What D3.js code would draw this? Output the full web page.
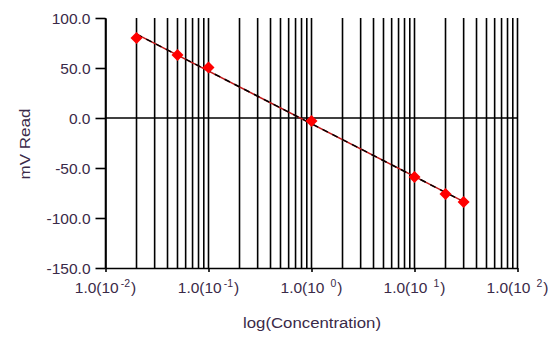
<!DOCTYPE html>
<html><head><meta charset="utf-8">
<script src="https://cdn.jsdelivr.net/npm/d3@7"></script>
<style>body{margin:0;background:#fff}svg{display:block}</style>
</head><body>
<script>
const concentration = [0.02, 0.05, 0.1, 1, 10, 20, 30];
const mvRead = [80, 63, 50.5, -3, -59, -76, -84];
const yTicks = [100, 50, 0, -50, -100, -150];
const xDecades = [-2, -1, 0, 1, 2];

const W = 548, H = 342;
const m = {l: 105.5, r: 30.5, t: 18, b: 74};
const svg = d3.select("body").append("svg").attr("width", W).attr("height", H);
const x = d3.scaleLog().domain([0.01, 100]).range([m.l, W - m.r]);
const y = d3.scaleLinear().domain([-150, 100]).range([H - m.b, m.t]);
const font = "Liberation Sans, Arial, sans-serif";
const txt = "#3a2a48";
const fs = 15.5;
const gw = 1.6;

// vertical grid at every minor tick
const grid = [];
for (let d = -2; d < 2; d++) for (let k = 1; k <= 9; k++) grid.push(k * Math.pow(10, d));
grid.push(100);
svg.append("g").selectAll("line").data(grid).join("line")
  .attr("x1", d => x(d)).attr("x2", d => x(d))
  .attr("y1", m.t).attr("y2", H - m.b)
  .attr("stroke", "#000").attr("stroke-width", gw);

// zero line
svg.append("line").attr("x1", m.l).attr("x2", W - m.r)
  .attr("y1", y(0)).attr("y2", y(0))
  .attr("stroke", "#000").attr("stroke-width", gw);

// y axis
const yAxis = d3.axisLeft(y).tickValues(yTicks)
  .tickFormat(d => d3.format(".1f")(d).replace("\u2212", "-"))
  .tickSize(10).tickPadding(5).tickSizeOuter(0);
const gy = svg.append("g").attr("transform", `translate(${m.l},0)`).call(yAxis);
gy.selectAll("text").attr("font-family", font).attr("font-size", fs).attr("fill", txt).attr("dy", "0.36em");
gy.selectAll("line,path").attr("stroke", "#000").attr("stroke-width", gw);

// x axis
const xAxis = d3.axisBottom(x).tickValues(xDecades.map(e => Math.pow(10, e))).tickFormat("").tickSize(4).tickSizeOuter(0);
const gx = svg.append("g").attr("transform", `translate(0,${H - m.b})`).call(xAxis);
gx.selectAll("line,path").attr("stroke", "#000").attr("stroke-width", gw);

const lab = svg.append("g").selectAll("text").data(xDecades).join("text")
  .attr("x", e => x(Math.pow(10, e)))
  .attr("y", H - m.b + 25)
  .attr("text-anchor", "middle")
  .attr("font-family", font).attr("font-size", fs).attr("fill", txt);
lab.append("tspan").text("1.0(10");
lab.append("tspan").attr("dy", -6).attr("dx", e => e < 0 ? 2 : 6).attr("font-size", 10.5).text(e => String(e));
lab.append("tspan").attr("dy", 6).attr("dx", 1).text(")");

// axis titles
svg.append("text").attr("x", 312).attr("y", H - 14)
  .attr("text-anchor", "middle").attr("font-family", font).attr("font-size", fs).attr("fill", txt)
  .attr("textLength", 138).attr("lengthAdjust", "spacingAndGlyphs")
  .text("log(Concentration)");
svg.append("text").attr("transform", `translate(30,${(m.t + H - m.b) / 2 + 1}) rotate(-90)`)
  .attr("text-anchor", "middle").attr("font-family", font).attr("font-size", fs).attr("fill", txt)
  .attr("textLength", 71).attr("lengthAdjust", "spacingAndGlyphs")
  .text("mV Read");

// fit line (least squares of mV vs log10 concentration)
const lx = concentration.map(Math.log10);
const mx = d3.mean(lx), my = d3.mean(mvRead);
const slope = d3.sum(lx.map((v, i) => (v - mx) * (mvRead[i] - my))) / d3.sum(lx.map(v => (v - mx) ** 2));
const icpt = my - slope * mx;
const ends = [d3.min(concentration), d3.max(concentration)];
const line = d3.line().x(d => x(d)).y(d => y(icpt + slope * Math.log10(d)));
svg.append("path").attr("d", line(ends)).attr("stroke", "#c01818").attr("stroke-width", 1.5).attr("fill", "none");
svg.append("path").attr("d", line(ends)).attr("stroke", "#000").attr("stroke-width", 1.5)
  .attr("stroke-dasharray", "6,5").attr("fill", "none");

// markers
const diamond = {draw(ctx, size) {
  const r = Math.sqrt(size) / 2;
  ctx.moveTo(0, -r); ctx.lineTo(r, 0); ctx.lineTo(0, r); ctx.lineTo(-r, 0); ctx.closePath();
}};
svg.append("g").selectAll("path").data(concentration).join("path")
  .attr("d", d3.symbol(diamond, 144))
  .attr("transform", (d, i) => `translate(${x(d)},${y(mvRead[i])})`)
  .attr("fill", "#ff0000");
</script>
</body></html>
